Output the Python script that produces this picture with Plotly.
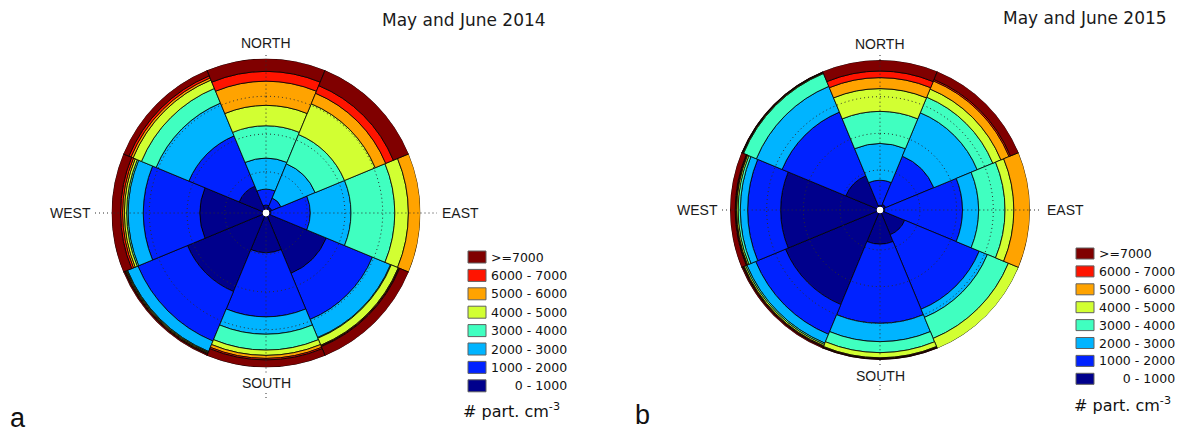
import plotly.graph_objects as go

# Figure size (px)
W, H = 1178, 434

# Wind sectors (degrees, clockwise from north) and sector width
DIRECTIONS = ["N", "NE", "E", "SE", "S", "SW", "W", "NW"]
THETA = [0, 45, 90, 135, 180, 225, 270, 315]
SECTOR_WIDTH = 45

# Concentration classes (# part. cm-3), innermost first
BIN_LABELS = ["0 - 1000", "1000 - 2000", "2000 - 3000", "3000 - 4000",
              "4000 - 5000", "5000 - 6000", "6000 - 7000", ">=7000"]
LEGEND_TEXT = ["\u2007\u2007\u20070 - 1000", "1000 - 2000", "2000 - 3000", "3000 - 4000",
               "4000 - 5000", "5000 - 6000", "6000 - 7000", ">=7000"]
COLORS = ["#00008c", "#0022ff", "#00b4ff", "#40ffc0",
          "#d2ff32", "#ffa300", "#ff1400", "#800000"]

# Share (%) of each concentration class per wind sector, order N..NW
# May and June 2014
s14_0_1000 = [3, 2, 1, 41, 24, 54, 41.5, 17]
s14_1000_2000 = [10.5, 6.5, 26, 33, 42.5, 35.5, 37.5, 36]
s14_2000_3000 = [20.5, 24.5, 27, 13, 11.5, 7.5, 10, 23.5]
s14_3000_4000 = [21.5, 21, 29, 0.5, 10.5, 0.5, 1, 10.5]
s14_4000_5000 = [13.5, 22, 9, 5, 3.5, 0.5, 1.5, 6]
s14_5000_6000 = [16, 7.5, 8, 0.5, 2, 0.5, 1.2, 1.5]
s14_6000_7000 = [6.5, 5.5, 0, 0.5, 1, 0.5, 1.3, 1.5]
s14_7000_plus = [8.5, 11, 0, 6.5, 5, 1, 6, 4]

# May and June 2015
s15_0_1000 = [1, 2, 1, 16, 21, 67.5, 65.5, 23]
s15_1000_2000 = [17, 35.5, 53, 55, 54, 22, 22.5, 47]
s15_2000_3000 = [25, 32, 11, 6, 12.5, 6.5, 5, 19]
s15_3000_4000 = [22, 11.5, 18, 15.5, 7.5, 1, 1.5, 9.5]
s15_4000_5000 = [15.5, 6, 6, 7.5, 3.5, 1, 1, 0.5]
s15_5000_6000 = [7.5, 6, 11, 0, 0.5, 0.5, 0.5, 0.3]
s15_6000_7000 = [4.5, 1, 0, 0, 0.5, 0.5, 0.5, 0.3]
s15_7000_plus = [7.5, 6, 0, 0, 0.5, 1, 3.5, 0.4]

SHARES_2014 = [s14_0_1000, s14_1000_2000, s14_2000_3000, s14_3000_4000,
               s14_4000_5000, s14_5000_6000, s14_6000_7000, s14_7000_plus]
SHARES_2015 = [s15_0_1000, s15_1000_2000, s15_2000_3000, s15_3000_4000,
               s15_4000_5000, s15_5000_6000, s15_6000_7000, s15_7000_plus]

# Reference rings (%) and spokes (deg) drawn on top of the roses
RING_LEVELS = [25, 50, 75]
SPOKE_ANGLES = [0, 90, 180, 270]

TITLES = ["May and June 2014", "May and June 2015"]
PANEL_LETTERS = ["a", "b"]

# Panel geometry in pixels: rose centre, radius, label offsets, legend placement
PANELS = [
    dict(subplot="polar", cx=266, cy=213, r=154.5,
         north=170, south=170, west_gap=19, east_gap=19,
         ext_l=171, ext_r=171, ext_t=158, ext_b1=160, ext_b2=(180, 187),
         title_xy=(464, 20), letter_xy=(8, 418),
         leg_x=468, leg_y=251, leg_dy=18.4, leg_w=18, leg_h=12,
         unit_xy=(461, 410)),
    dict(subplot="polar2", cx=880, cy=210, r=150,
         north=166, south=166, west_gap=10, east_gap=15,
         ext_l=158, ext_r=160, ext_t=155, ext_b1=158, ext_b2=(175, 182),
         title_xy=(1085, 18), letter_xy=(633, 415),
         leg_x=1076, leg_y=248, leg_dy=17.9, leg_w=18, leg_h=11,
         unit_xy=(1072, 404)),
]

GRID = "#2e2e2e"
DOT = "1px,3px"


def fx(x):
    return x / W


def fy(y):
    return 1 - y / H


fig = go.Figure()

for panel, shares in zip(PANELS, [SHARES_2014, SHARES_2015]):
    for label, color, values in zip(BIN_LABELS, COLORS, shares):
        fig.add_trace(go.Barpolar(
            r=values, theta=THETA, width=[SECTOR_WIDTH] * len(THETA),
            name=label, marker=dict(color=color, line=dict(color="#000000", width=0.8)),
            subplot=panel["subplot"], showlegend=False, hoverinfo="skip",
        ))
    # dotted rings and spokes above the bars
    circle = list(range(0, 361, 2))
    for level in RING_LEVELS:
        fig.add_trace(go.Scatterpolar(
            r=[level] * len(circle), theta=circle, mode="lines",
            line=dict(color=GRID, width=1, dash=DOT),
            subplot=panel["subplot"], showlegend=False, hoverinfo="skip"))
    for ang in SPOKE_ANGLES:
        fig.add_trace(go.Scatterpolar(
            r=[0, 100], theta=[ang, ang], mode="lines",
            line=dict(color=GRID, width=1, dash=DOT),
            subplot=panel["subplot"], showlegend=False, hoverinfo="skip"))

shapes, annotations = [], []
polar_layouts = {}
for p, title, letter in zip(PANELS, TITLES, PANEL_LETTERS):
    cx, cy, r = p["cx"], p["cy"], p["r"]
    polar_layouts[p["subplot"]] = dict(
        domain=dict(x=[fx(cx - r), fx(cx + r)], y=[fy(cy + r), fy(cy - r)]),
        bgcolor="white", hole=0.022, barmode="stack",
        radialaxis=dict(range=[0, 100], showticklabels=False, ticks="",
                        showline=False, showgrid=False),
        angularaxis=dict(rotation=90, direction="clockwise", showticklabels=False,
                         ticks="", showline=False, showgrid=False),
    )

    # dotted cross lines continuing outside the rose
    line = dict(color=GRID, width=1, dash=DOT)
    for x0, y0, x1, y1 in [
        (cx - p["ext_l"], cy, cx - r, cy), (cx + r, cy, cx + p["ext_r"], cy),
        (cx, cy - p["ext_t"], cx, cy - r), (cx, cy + r, cx, cy + p["ext_b1"]),
        (cx, cy + p["ext_b2"][0], cx, cy + p["ext_b2"][1]),
    ]:
        shapes.append(dict(type="line", xref="paper", yref="paper",
                           x0=fx(x0), y0=fy(y0), x1=fx(x1), y1=fy(y1), line=line))

    dir_font = dict(family="Liberation Sans, Arial", size=14, color="#1a1a1a")
    for text, x, y, xa in [
        ("NORTH", cx, cy - p["north"], "center"),
        ("SOUTH", cx, cy + p["south"], "center"),
        ("WEST", cx - r - p["west_gap"], cy, "right"),
        ("EAST", cx + r + p["east_gap"], cy, "left"),
    ]:
        annotations.append(dict(text=text, x=fx(x), y=fy(y), xref="paper", yref="paper",
                                xanchor=xa, yanchor="middle", showarrow=False, font=dir_font))

    annotations.append(dict(text=title, x=fx(p["title_xy"][0]), y=fy(p["title_xy"][1]),
                            xref="paper", yref="paper", xanchor="center", yanchor="middle",
                            showarrow=False,
                            font=dict(family="DejaVu Sans", size=17, color="#1a1a1a")))
    annotations.append(dict(text=letter, x=fx(p["letter_xy"][0]), y=fy(p["letter_xy"][1]),
                            xref="paper", yref="paper", xanchor="left", yanchor="middle",
                            showarrow=False,
                            font=dict(family="Liberation Sans, Arial", size=27, color="#111111")))

    # colour key, highest class on top
    for row, k in enumerate(reversed(range(len(BIN_LABELS)))):
        top = p["leg_y"] + row * p["leg_dy"]
        shapes.append(dict(type="rect", xref="paper", yref="paper",
                           x0=fx(p["leg_x"]), x1=fx(p["leg_x"] + p["leg_w"]),
                           y0=fy(top + p["leg_h"]), y1=fy(top),
                           fillcolor=COLORS[k], line=dict(color="#606060", width=1)))
        annotations.append(dict(text=LEGEND_TEXT[k], x=fx(p["leg_x"] + p["leg_w"] + 3),
                                y=fy(top + p["leg_h"] / 2), xref="paper", yref="paper",
                                xanchor="left", yanchor="middle", showarrow=False,
                                font=dict(family="DejaVu Sans", size=12.5, color="#111111")))
    annotations.append(dict(text="# part. cm<sup>-3</sup>", x=fx(p["unit_xy"][0]),
                            y=fy(p["unit_xy"][1]), xref="paper", yref="paper",
                            xanchor="left", yanchor="middle", showarrow=False,
                            font=dict(family="DejaVu Sans", size=16, color="#111111")))

fig.update_layout(
    width=W, height=H, margin=dict(l=0, r=0, t=0, b=0),
    paper_bgcolor="white", plot_bgcolor="white", showlegend=False,
    shapes=shapes, annotations=annotations, **polar_layouts,
)

fig.write_html("out.html")
